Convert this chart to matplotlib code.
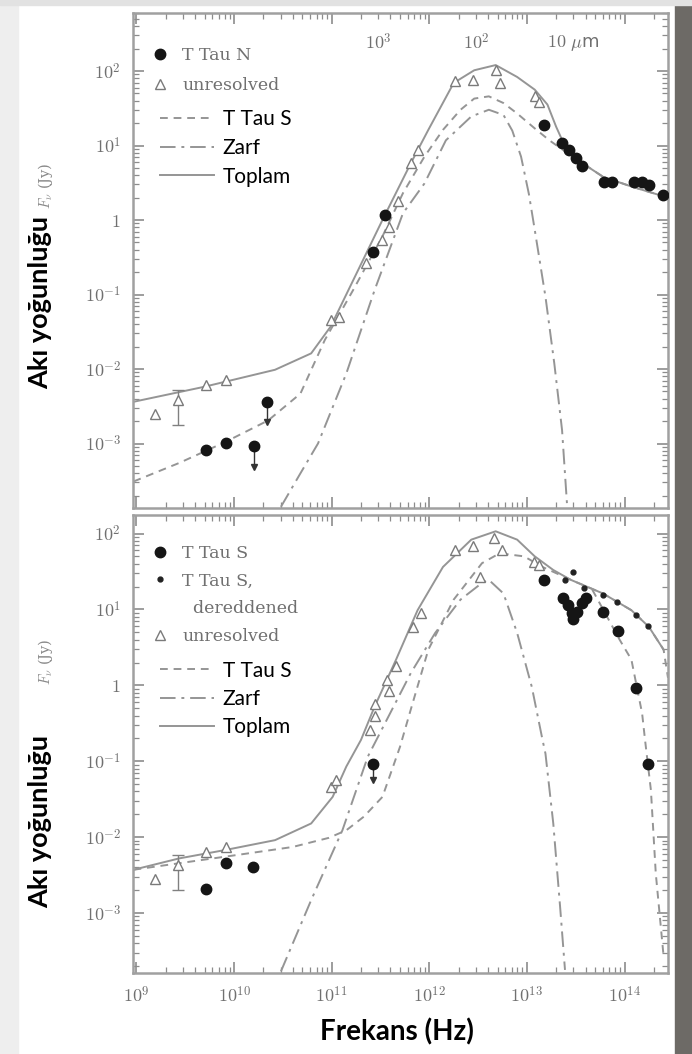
import numpy as np
import matplotlib.pyplot as plt
import matplotlib.transforms as mtransforms
from matplotlib.lines import Line2D
from matplotlib.patches import Rectangle
from matplotlib.ticker import LogLocator, NullFormatter

plt.rcParams['mathtext.fontset'] = 'cm'

# all values are log10(frekans / Hz) and log10(F_nu / Jy)

# ---- ust panel: T Tau N ----
n_unres_x = [9.19, 9.43, 9.71, 9.92, 10.99, 11.08, 11.35, 11.52, 11.59, 11.68,
             11.81, 11.88, 12.26, 12.45, 12.68, 12.72, 13.08, 13.12]
n_unres_y = [-2.60, -2.42, -2.22, -2.15, -1.34, -1.30, -0.58, -0.27, -0.09, 0.25,
             0.76, 0.94, 1.86, 1.88, 2.01, 1.84, 1.66, 1.59]
n_err_x, n_err_lo, n_err_hi = 9.43, -2.75, -2.28

n_star_x = [9.71, 9.92, 10.20, 10.34, 11.42, 11.55, 13.17, 13.36, 13.43, 13.50,
            13.56, 13.79, 13.87, 14.10, 14.18, 14.25, 14.39]
n_star_y = [-3.09, -2.99, -3.04, -2.44, -0.43, 0.07, 1.28, 1.03, 0.94, 0.83,
            0.72, 0.51, 0.51, 0.51, 0.51, 0.47, 0.34]
n_lim_x = [10.20, 10.34]
n_lim_y = [-3.04, -2.44]
n_lim_tip = [-3.31, -2.71]

n_tot_x = [8.97, 9.69, 10.42, 10.79, 10.99, 11.22, 11.52, 11.81, 11.99, 12.25,
           12.46, 12.68, 12.90, 13.08, 13.21, 13.30, 13.40, 13.56, 13.78, 14.07, 14.445]
n_tot_y = [-2.44, -2.24, -2.01, -1.79, -1.43, -0.81, 0.00, 0.76, 1.21, 1.84,
           2.01, 2.08, 1.92, 1.75, 1.55, 1.25, 0.96, 0.77, 0.58, 0.45, 0.30]

n_s_x = [8.97, 9.44, 9.91, 10.35, 10.68, 10.93, 11.22, 11.52, 11.73, 11.95, 12.14,
         12.32, 12.46, 12.61, 12.76, 12.90, 13.08, 13.23, 13.37, 13.56, 13.78, 14.07, 14.445]
n_s_y = [-3.51, -3.26, -2.98, -2.69, -2.33, -1.61, -0.94, -0.22, 0.36, 0.85, 1.21,
         1.48, 1.63, 1.66, 1.57, 1.43, 1.23, 1.07, 0.94, 0.77, 0.58, 0.45, 0.30]

n_env_x = [10.48, 10.68, 10.86, 11.15, 11.44, 11.73, 11.95, 12.17, 12.43, 12.61,
           12.76, 12.85, 12.94, 13.02, 13.08, 13.19, 13.28, 13.36, 13.41]
n_env_y = [-3.85, -3.40, -3.00, -2.06, -0.94, 0.09, 0.49, 1.07, 1.39, 1.48,
           1.41, 1.20, 0.85, 0.35, -0.13, -1.03, -1.92, -2.82, -3.80]

# ---- alt panel: T Tau S ----
s_unres_x = [9.19, 9.43, 9.71, 9.92, 10.99, 11.04, 11.39, 11.44, 11.44, 11.57, 11.59,
             11.66, 11.83, 11.92, 12.26, 12.45, 12.52, 12.66, 12.74, 13.07, 13.12]
s_unres_y = [-2.55, -2.37, -2.19, -2.13, -1.34, -1.25, -0.59, -0.41, -0.24, 0.07, -0.08,
             0.25, 0.77, 0.95, 1.78, 1.83, 1.43, 1.94, 1.78, 1.63, 1.59]
s_err_x, s_err_lo, s_err_hi = 9.43, -2.70, -2.24

s_star_x = [9.71, 9.92, 10.19, 11.42, 13.17, 13.37, 13.42, 13.46, 13.47, 13.51,
            13.56, 13.61, 13.78, 13.93, 14.12, 14.24]
s_star_y = [-2.69, -2.34, -2.39, -1.03, 1.39, 1.15, 1.06, 0.95, 0.88, 0.97,
            1.08, 1.15, 0.97, 0.71, -0.04, -1.03]
s_lim_x = [11.42]
s_lim_y = [-1.03]
s_lim_tip = [-1.25]

s_dered_x = [13.39, 13.47, 13.58, 13.78, 13.92, 14.12, 14.24]
s_dered_y = [1.39, 1.50, 1.28, 1.19, 1.10, 0.93, 0.78]

s_tot_x = [8.97, 9.44, 9.91, 10.42, 10.79, 11.01, 11.15, 11.30, 11.44, 11.66, 11.88,
           12.14, 12.43, 12.68, 12.90, 13.08, 13.27, 13.45, 13.78, 14.07, 14.25, 14.40]
s_tot_y = [-2.43, -2.28, -2.17, -2.04, -1.82, -1.47, -1.07, -0.72, -0.28, 0.34, 0.99,
           1.56, 1.92, 2.03, 1.92, 1.70, 1.52, 1.39, 1.21, 0.99, 0.77, 0.47]

s_s_x = [8.97, 10.06, 10.60, 10.97, 11.15, 11.33, 11.52, 11.70, 11.81, 11.99, 12.25,
         12.54, 12.72, 12.97, 13.16, 13.45, 13.78, 14.07, 14.25, 14.40, 14.445]
s_s_y = [-2.43, -2.23, -2.13, -2.01, -1.91, -1.73, -1.47, -0.81, -0.32, 0.47, 1.13,
         1.61, 1.74, 1.70, 1.56, 1.39, 1.21, 0.99, 0.77, 0.47, 0.10]

s_red_x = [13.67, 13.95, 14.07, 14.18, 14.21, 14.27, 14.32, 14.40]
s_red_y = [1.26, 0.60, 0.34, -0.37, -0.72, -1.38, -2.48, -3.57]

s_env_x = [10.48, 10.79, 11.11, 11.37, 11.81, 12.06, 12.32, 12.54, 12.61, 12.76,
           12.90, 13.05, 13.16, 13.19, 13.27, 13.34, 13.39]
s_env_y = [-3.77, -2.83, -1.91, -0.94, 0.16, 0.69, 1.13, 1.35, 1.39, 1.21,
           0.69, -0.02, -0.72, -0.90, -1.82, -2.92, -3.75]

# eksen etiketleri
xtick_vals = [1e9, 1e10, 1e11, 1e12, 1e13, 1e14]
xtick_labels = ['$10^{9}$', '$10^{10}$', '$10^{11}$', '$10^{12}$', '$10^{13}$', '$10^{14}$']
ytick_vals = [1e-3, 1e-2, 1e-1, 1, 1e1, 1e2]
ytick_labels = ['$10^{-3}$', '$10^{-2}$', '$10^{-1}$', '$1$', '$10^{1}$', '$10^{2}$']
wl_vals = [1000, 100, 10]          # mikron
wl_labels = ['$10^{3}$', '$10^{2}$', r'$10\ \mu$m']
c_micron = 2.998e14

GRAY_TXT = '#707070'
LINE_C = '#959595'
serif = {'family': 'DejaVu Serif', 'size': 12.5}
DOT_MS = 7.5


def p(v):
    return 10 ** np.asarray(v, dtype=float)


def style(ax, ylog):
    ax.set_xscale('log')
    ax.set_yscale('log')
    ax.set_xlim(10 ** 8.97, 10 ** 14.445)
    ax.set_ylim(10 ** ylog[0], 10 ** ylog[1])
    for s in ax.spines.values():
        s.set_color('#a0a0a0')
        s.set_linewidth(1.8)
    ax.set_xticks(xtick_vals, xtick_labels)
    ax.set_yticks(ytick_vals, ytick_labels)
    ax.xaxis.set_minor_locator(LogLocator(base=10, subs=np.arange(2, 10), numticks=50))
    ax.yaxis.set_minor_locator(LogLocator(base=10, subs=np.arange(2, 10), numticks=50))
    ax.xaxis.set_minor_formatter(NullFormatter())
    ax.yaxis.set_minor_formatter(NullFormatter())
    ax.tick_params(which='both', direction='in', top=True, right=True,
                   color='#8c8c8c', labelcolor=GRAY_TXT, labelsize=13)
    ax.tick_params(which='major', length=8, width=1.2)
    ax.tick_params(which='minor', length=4, width=0.9)
    ax.tick_params(axis='x', pad=9)
    ax.tick_params(axis='y', pad=9)


def curves(ax, tx, ty, sx, sy, ex, ey):
    ax.plot(p(tx), p(ty), color=LINE_C, lw=1.4, zorder=2)
    ax.plot(p(sx), p(sy), color=LINE_C, lw=1.4, dashes=(4, 3), zorder=2)
    ax.plot(p(ex), p(ey), color=LINE_C, lw=1.4, dashes=(8, 3, 1.5, 3), zorder=2)


def err_tri(ax, x, lo, hi):
    mid = (lo + hi) / 2
    ax.errorbar(p(x), p(mid), yerr=[[p(mid) - p(lo)], [p(hi) - p(mid)]],
                fmt='none', ecolor='#808080', capsize=4, lw=1)


fig = plt.figure(figsize=(6.92, 10.54), dpi=100)
fig.patches.append(Rectangle((0, 0), 0.026, 1, transform=fig.transFigure,
                             color='#eeeeee', zorder=-5))
fig.patches.append(Rectangle((0.975, 0), 0.025, 1, transform=fig.transFigure,
                             color='#6d6a66', zorder=-5))
fig.patches.append(Rectangle((0, 0.995), 1, 0.005, transform=fig.transFigure,
                             color='#e2e2e2', zorder=-5))

ax1 = fig.add_axes([0.1929, 0.518, 0.7724, 0.4701])
ax2 = fig.add_axes([0.1929, 0.0769, 0.7724, 0.4345])
style(ax1, (-3.866, 2.785))
style(ax2, (-3.79, 2.245))
ax1.tick_params(axis='x', labelbottom=False)

# ---- ust panel ----
curves(ax1, n_tot_x, n_tot_y, n_s_x, n_s_y, n_env_x, n_env_y)
err_tri(ax1, n_err_x, n_err_lo, n_err_hi)
ax1.plot(p(n_unres_x), p(n_unres_y), '^', ms=7, mfc='white', mec='#7a7a7a', mew=1, zorder=3)
ax1.vlines(p(n_lim_x), p(n_lim_tip), p(n_lim_y), color='#333333', lw=1)
ax1.plot(p(n_lim_x), p(n_lim_tip), 'v', ms=4, color='#333333')
ax1.plot(p(n_star_x), p(n_star_y), 'o', ms=DOT_MS, color='#151515', zorder=4)

tr = mtransforms.blended_transform_factory(ax1.transData, ax1.transAxes)
for w, lab in zip(wl_vals, wl_labels):
    ax1.text(c_micron / w, 0.938, lab, transform=tr, ha='center', va='center',
             color=GRAY_TXT, fontsize=13)

h1 = [Line2D([], [], ls='', marker='o', ms=DOT_MS, color='#151515'),
      Line2D([], [], ls='', marker='^', ms=7, mfc='white', mec='#7a7a7a')]
leg = ax1.legend(h1, ['T Tau N', 'unresolved'], loc='upper left',
                 bbox_to_anchor=(0.033, 0.93), frameon=False, prop=serif,
                 handlelength=1.0, handletextpad=0.8, labelspacing=0.75,
                 borderpad=0, borderaxespad=0, labelcolor=GRAY_TXT)
ax1.add_artist(leg)
h2 = [Line2D([], [], color=LINE_C, lw=1.4, dashes=(4, 3)),
      Line2D([], [], color=LINE_C, lw=1.4, dashes=(8, 3, 1.5, 3)),
      Line2D([], [], color=LINE_C, lw=1.4)]
ax1.legend(h2, ['T Tau S', 'Zarf', 'Toplam'], loc='upper left',
           bbox_to_anchor=(0.05, 0.805), frameon=False,
           prop={'family': 'Lato', 'size': 15}, handlelength=2.6,
           handletextpad=0.4, labelspacing=0.42, borderpad=0, borderaxespad=0)

# ---- alt panel ----
curves(ax2, s_tot_x, s_tot_y, s_s_x, s_s_y, s_env_x, s_env_y)
ax2.plot(p(s_red_x), p(s_red_y), color=LINE_C, lw=1.4, dashes=(4, 3), zorder=2)
err_tri(ax2, s_err_x, s_err_lo, s_err_hi)
ax2.plot(p(s_unres_x), p(s_unres_y), '^', ms=7, mfc='white', mec='#7a7a7a', mew=1, zorder=3)
ax2.vlines(p(s_lim_x), p(s_lim_tip), p(s_lim_y), color='#333333', lw=1)
ax2.plot(p(s_lim_x), p(s_lim_tip), 'v', ms=4, color='#333333')
ax2.plot(p(s_dered_x), p(s_dered_y), 'o', ms=3.5, color='#222222', zorder=4)
ax2.plot(p(s_star_x), p(s_star_y), 'o', ms=DOT_MS, color='#151515', zorder=4)

h3 = [Line2D([], [], ls='', marker='o', ms=DOT_MS, color='#151515'),
      Line2D([], [], ls='', marker='o', ms=3.5, color='#222222'),
      Line2D([], [], ls=''),
      Line2D([], [], ls='', marker='^', ms=7, mfc='white', mec='#7a7a7a')]
leg = ax2.legend(h3, ['T Tau S', 'T Tau S,', '  dereddened', 'unresolved'], loc='upper left',
                 bbox_to_anchor=(0.033, 0.935), frameon=False, prop=serif,
                 handlelength=1.0, handletextpad=0.8, labelspacing=0.62,
                 borderpad=0, borderaxespad=0, labelcolor=GRAY_TXT)
ax2.add_artist(leg)
ax2.legend(h2, ['T Tau S', 'Zarf', 'Toplam'], loc='upper left',
           bbox_to_anchor=(0.05, 0.682), frameon=False,
           prop={'family': 'Lato', 'size': 15}, handlelength=2.6,
           handletextpad=0.4, labelspacing=0.4, borderpad=0, borderaxespad=0)

# eksen basliklari
for yc, yf in [(0.713, 0.824), (0.221, 0.372)]:
    fig.text(0.058, yc, 'Akı yoğunluğu', rotation=90, ha='center', va='center',
             family='Lato', weight='bold', fontsize=19.5)
    fig.text(0.066, yf, r'$F_{\nu}$ (Jy)', rotation=90, ha='center', va='center',
             family='DejaVu Serif', color='#8a8a8a', fontsize=10.5)
fig.text(0.574, 0.021, 'Frekans (Hz)', ha='center', va='center',
         family='Lato', weight='bold', fontsize=20)

fig.savefig('out.png', dpi=100)
